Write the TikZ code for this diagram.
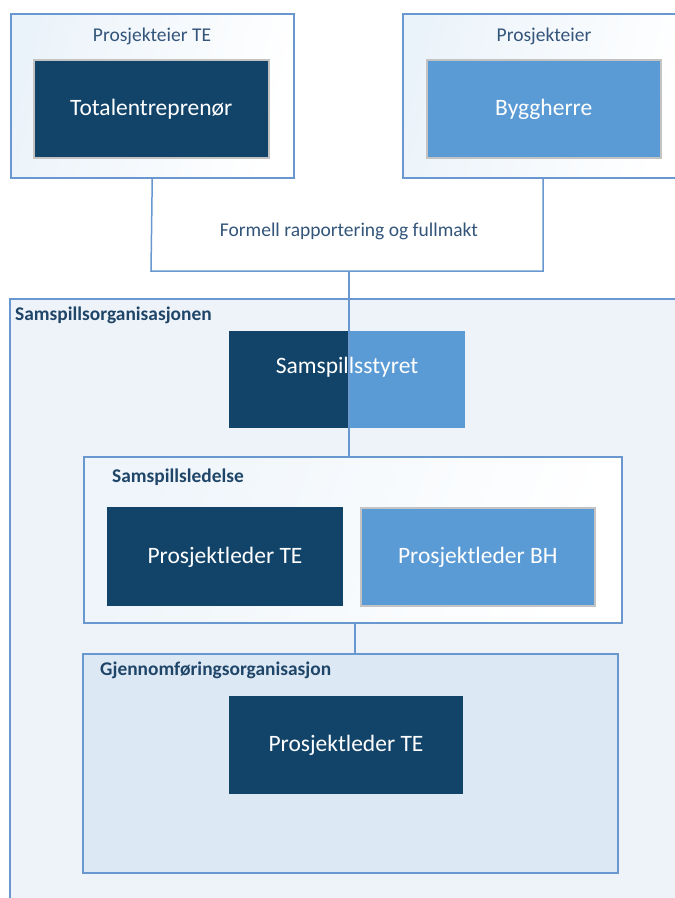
\documentclass[tikz,border=0pt]{standalone}
\usepackage{fontspec}
\setmainfont{Carlito}
\definecolor{darkblue}{HTML}{12446A}
\definecolor{lightblue}{HTML}{5B9BD5}
\definecolor{edgeblue}{HTML}{6898CF}
\definecolor{greyedge}{HTML}{C3C3C3}
\definecolor{orgfill}{HTML}{EEF3F9}
\definecolor{gjfill}{HTML}{DDE8F5}
\definecolor{labeltext}{HTML}{1F4568}
\definecolor{softtext}{HTML}{33557A}
\begin{document}
\begin{tikzpicture}[x=1pt,y=-1pt,
  boxbase/.style={inner sep=0pt, anchor=north west},
  frame/.style={boxbase, draw=edgeblue, line width=1.5pt},
  boxtext/.style={text=white, font=\fontsize{23.5}{26}\selectfont, text height=17pt, text depth=4pt},
  darkbox/.style={boxbase, fill=darkblue, draw=darkblue, line width=1pt, boxtext},
  lightbox/.style={boxbase, fill=lightblue, draw=greyedge, line width=1.5pt, boxtext},
  darkgreybox/.style={darkbox, draw=greyedge, line width=1.5pt},
  softlabel/.style={inner sep=0pt, text=softtext, font=\fontsize{19.5}{22}\selectfont},
  boldlabel/.style={inner sep=0pt, anchor=west, text=labeltext, font=\bfseries\fontsize{19.4}{22}\selectfont},
  conn/.style={draw=edgeblue, line width=1.5pt}
]
\useasboundingbox (0,0) rectangle (675,898);
\fill[white] (0,0) rectangle (675,898);

% Samspillsorganisasjonen outer area
\node[frame, fill=orgfill, minimum width=680pt, minimum height=610pt] (org) at (9,298) {};
\node[boldlabel] (orglbl) at (15,315) {Samspillsorganisasjonen};

% top owner boxes
\node[frame, left color=white!88!lightblue, right color=white, shading angle=75, minimum width=283pt, minimum height=164pt] (pte) at (10,13) {};
\node[softlabel] (ptelbl) at (152,36) {Prosjekteier TE};
\node[darkgreybox, minimum width=235pt, minimum height=98pt] (te) at (33,59) {Totalentreprenør};

\node[frame, left color=white!88!lightblue, right color=white, shading angle=75, minimum width=280pt, minimum height=164pt] (pe) at (402,13) {};
\node[softlabel] (pelbl) at (544,36) {Prosjekteier};
\node[lightbox, minimum width=234pt, minimum height=98pt] (bh) at (426,59) {Byggherre};

% reporting connector
\coordinate (jl) at (151,271);
\coordinate (jr) at (543,271);
\coordinate (jm) at (349,271);
\draw[conn] (pte.south) -- (jl) -- (jr) -- (jr |- pe.south);
\node[softlabel] (formell) at (349,231) {Formell rapportering og fullmakt};

% Samspillsstyret
\node[boxbase, fill=lightblue, minimum width=236pt, minimum height=97pt,
  path picture={\fill[darkblue] (path picture bounding box.north west) rectangle ([xshift=1pt]path picture bounding box.south);}] (styret) at (229,331) {};
\node[inner sep=0pt, boxtext] (styrettxt) at (347,367) {Samspillsstyret};

% Samspillsledelse
\node[frame, left color=white!90!lightblue, right color=white, shading angle=70, minimum width=538pt, minimum height=166pt] (sl) at (83,456) {};
\node[boldlabel] (sllbl) at (112,477) {Samspillsledelse};
\node[darkbox, minimum width=235pt, minimum height=98pt] (pltel) at (107,507) {Prosjektleder TE};
\node[lightbox, minimum width=234pt, minimum height=98pt] (plbh) at (360,507) {Prosjektleder BH};

\draw[conn] (jm) -- (jm |- sl.north);

% Gjennomforingsorganisasjon
\node[frame, fill=gjfill, minimum width=535pt, minimum height=219pt] (go) at (82,653) {};
\node[boldlabel] (golbl) at (100,670) {Gjennomføringsorganisasjon};
\node[darkbox, minimum width=233pt, minimum height=97pt] (plte2) at (229,696) {Prosjektleder TE};

\draw[conn] ([xshift=2pt]sl.south) -- ([xshift=2pt]sl.south |- go.north);
\end{tikzpicture}
\end{document}
